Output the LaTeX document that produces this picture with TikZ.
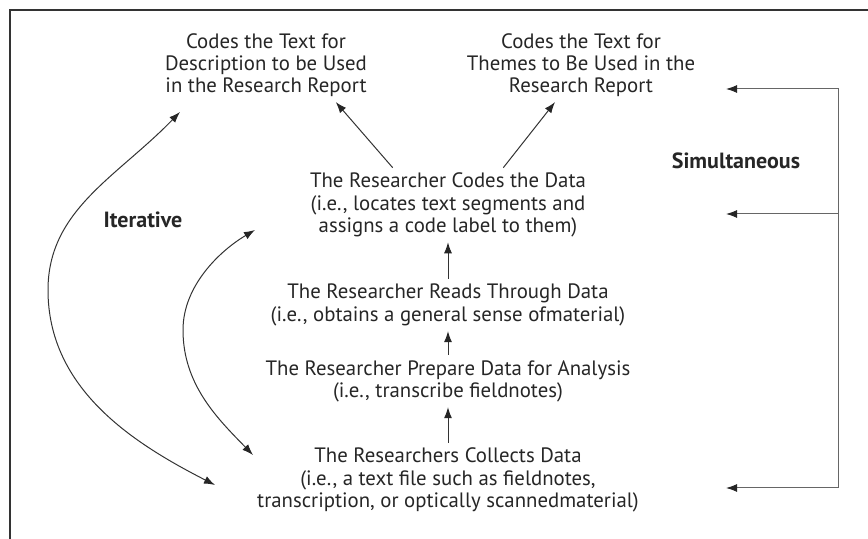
\documentclass[tikz,border=0pt]{standalone}
\usepackage{fontspec}
\setmainfont{PT Sans}
\usetikzlibrary{arrows.meta}

\begin{document}
\begin{tikzpicture}[x=0.5pt,y=-0.5pt,>={Latex[length=5.5pt,width=4pt,color=black!85]},
  txt/.style={align=center,inner sep=2.5pt,text=black!85,font=\fontsize{10.4}{11.1}\selectfont},
  sidelbl/.style={txt,font=\fontsize{11}{12}\selectfont\bfseries},
  link/.style={line width=0.5pt,black!80}]
\useasboundingbox (0,0) rectangle (868,539);
% Frame, only its top and left edges show
\draw[line width=0.7pt,black!80] (10,539) -- (10,10) -- (868,10);
% Two coding outcomes at the top
\node[txt] (desc) at (266,65) {Codes the Text for\\Description to be Used\\in the Research Report};
\node[txt] (themes) at (581,65) {Codes the Text for\\Themes to Be Used in the\\Research Report};
% Steps of the process in a column
\node[txt] (coder) at (448,205) {The Researcher Codes the Data\\(i.e., locates text segments and\\assigns a code label to them)};
\node[txt] (reads) at (448,305) {The Researcher Reads Through Data\\(i.e., obtains a general sense ofmaterial)};
\node[txt] (prep) at (448,381) {The Researcher Prepare Data for Analysis\\(i.e., transcribe fieldnotes)};
\node[txt] (collect) at (448,480) {The Researchers Collects Data\\(i.e., a text file such as fieldnotes,\\transcription, or optically scannedmaterial)};
% Side labels
\node[sidelbl] (iter) at (143,220) {Iterative};
\node[sidelbl] (simul) at (736,161) {Simultaneous};
% Arrows up the column and to the outcomes
\draw[->,link] (collect) -- (prep);
\draw[->,link] (prep) -- (reads);
\draw[->,link] (reads) -- (coder);
\draw[->,link] (coder.146) -- (desc.-28);
\draw[->,link] (coder.34) -- (themes.235);
% Simultaneous bracket on the right
\coordinate (sTop) at (838,89);
\coordinate (sMid) at (838,214);
\coordinate (sBot) at (838,488);
\coordinate (tTop) at (726,89);
\coordinate (tMid) at (726,214);
\coordinate (tBot) at (726,488);
\draw[<->,link,black!60] (tTop) -- (sTop) -- (sBot) -- (tBot);
\draw[->,link,black!60] (sMid) -- (tMid);
% Iterative loops on the left
\coordinate (oTop) at (180,112);
\coordinate (oLeft) at (48,290);
\coordinate (oBot) at (215,485);
\draw[<->,link] (oBot) .. controls (135,444) and (48,390) .. (oLeft) .. controls (48,210) and (117,177) .. (oTop);
\coordinate (iTop) at (255,230);
\coordinate (iLeft) at (183,330);
\coordinate (iBot) at (253,455);
\draw[<->,link] (iTop) .. controls (221,250) and (183,285) .. (iLeft) .. controls (183,385) and (218,419) .. (iBot);
\end{tikzpicture}
\end{document}
